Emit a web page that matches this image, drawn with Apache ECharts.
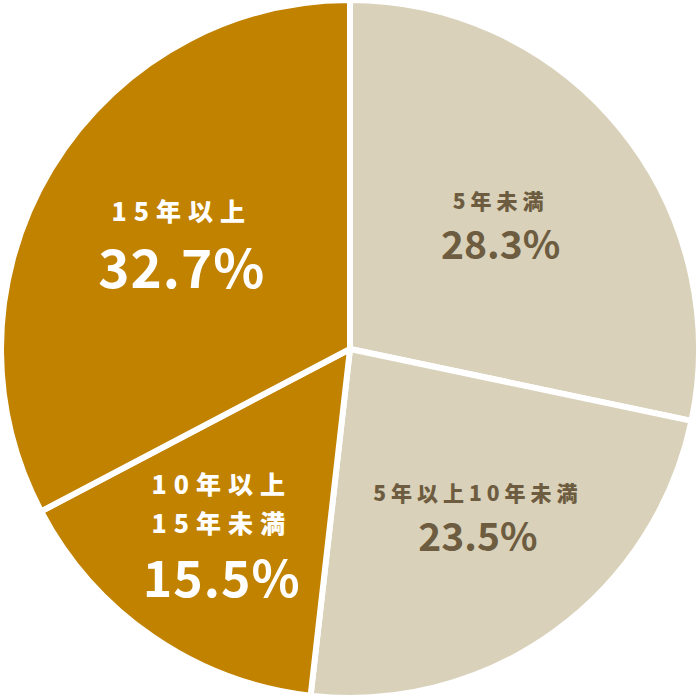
<!DOCTYPE html>
<html>
<head>
<meta charset="utf-8">
<script src="https://cdn.jsdelivr.net/npm/echarts@6/dist/echarts.min.js"></script>
<style>
html,body{margin:0;padding:0;background:#fff;}
#chart{width:700px;height:700px;}
#chart text[style*="21px"]{letter-spacing:5px;}
#chart text[style*="25px"]{letter-spacing:7px;}
#chart text[style*="39px"]{letter-spacing:0px;}
#chart text[style*="50px"]{letter-spacing:1px;}
#chart text[style*="53px"]{letter-spacing:1px;}
</style>
</head>
<body>
<div id="chart"></div>
<script>
const categories = ['5年未満', '5年以上10年未満', '10年以上\n15年未満', '15年以上'];
const values = [28.3, 23.5, 15.5, 32.7];
const valueLabels = ['28.3%', '23.5%', '15.5%', '32.7%'];

// styling (not data)
const sliceColors = ['#D9D1B9', '#D9D1B9', '#C18200', '#C18200'];
const nameStyles = ['nS', 'nS', 'nL', 'nL'];
const valueStyles = ['vS', 'vS', 'vM', 'vL'];
const textColors = ['#6D5C40', '#6D5C40', '#FFFFFF', '#FFFFFF'];
const labelRadius = [191, 207, 224, 197];
const labelNudgeX = [0, 5, 0, 3];

const R = 349;
const cx = 350, cy = 349;
const total = values.reduce((a, b) => a + b, 0);
let acc = 0;
const data = categories.map((name, i) => {
  const mid = (acc + values[i] / 2) / total * 2 * Math.PI;
  acc += values[i];
  const dx = Math.sin(mid), dy = -Math.cos(mid);
  const shift = labelRadius[i] - R / 2;
  return {
    name: name,
    value: values[i],
    itemStyle: { color: sliceColors[i] },
    label: {
      color: textColors[i],
      offset: [shift * dx + labelNudgeX[i], shift * dy],
      formatter: function () {
        const lines = name.split('\n').map(t => '{' + nameStyles[i] + '|' + t + '}');
        return lines.join('\n') + '\n{' + valueStyles[i] + '|' + valueLabels[i] + '}';
      }
    }
  };
});

const font = '"Noto Sans CJK JP", "Noto Sans", sans-serif';
const chart = echarts.init(document.getElementById('chart'), null, { renderer: 'svg' });
chart.setOption({
  animation: false,
  series: [{
    type: 'pie',
    center: [cx, cy],
    radius: [0, R],
    startAngle: 90,
    clockwise: true,
    avoidLabelOverlap: false,
    emphasis: { disabled: true },
    itemStyle: { borderColor: '#FFFFFF', borderWidth: 6 },
    labelLine: { show: false },
    label: {
      show: true,
      position: 'inside',
      fontFamily: font,
      fontWeight: 'bold',
      rich: {
        nS: { fontFamily: font, fontWeight: 900, fontSize: 21, lineHeight: 30 },
        vS: { fontFamily: font, fontWeight: 'bold', fontSize: 39, lineHeight: 54 },
        nL: { fontFamily: font, fontWeight: 900, fontSize: 25, lineHeight: 39 },
        vM: { fontFamily: font, fontWeight: 'bold', fontSize: 50, lineHeight: 68 },
        vL: { fontFamily: font, fontWeight: 'bold', fontSize: 53, lineHeight: 71 }
      }
    },
    data: data
  }]
});
</script>
</body>
</html>
